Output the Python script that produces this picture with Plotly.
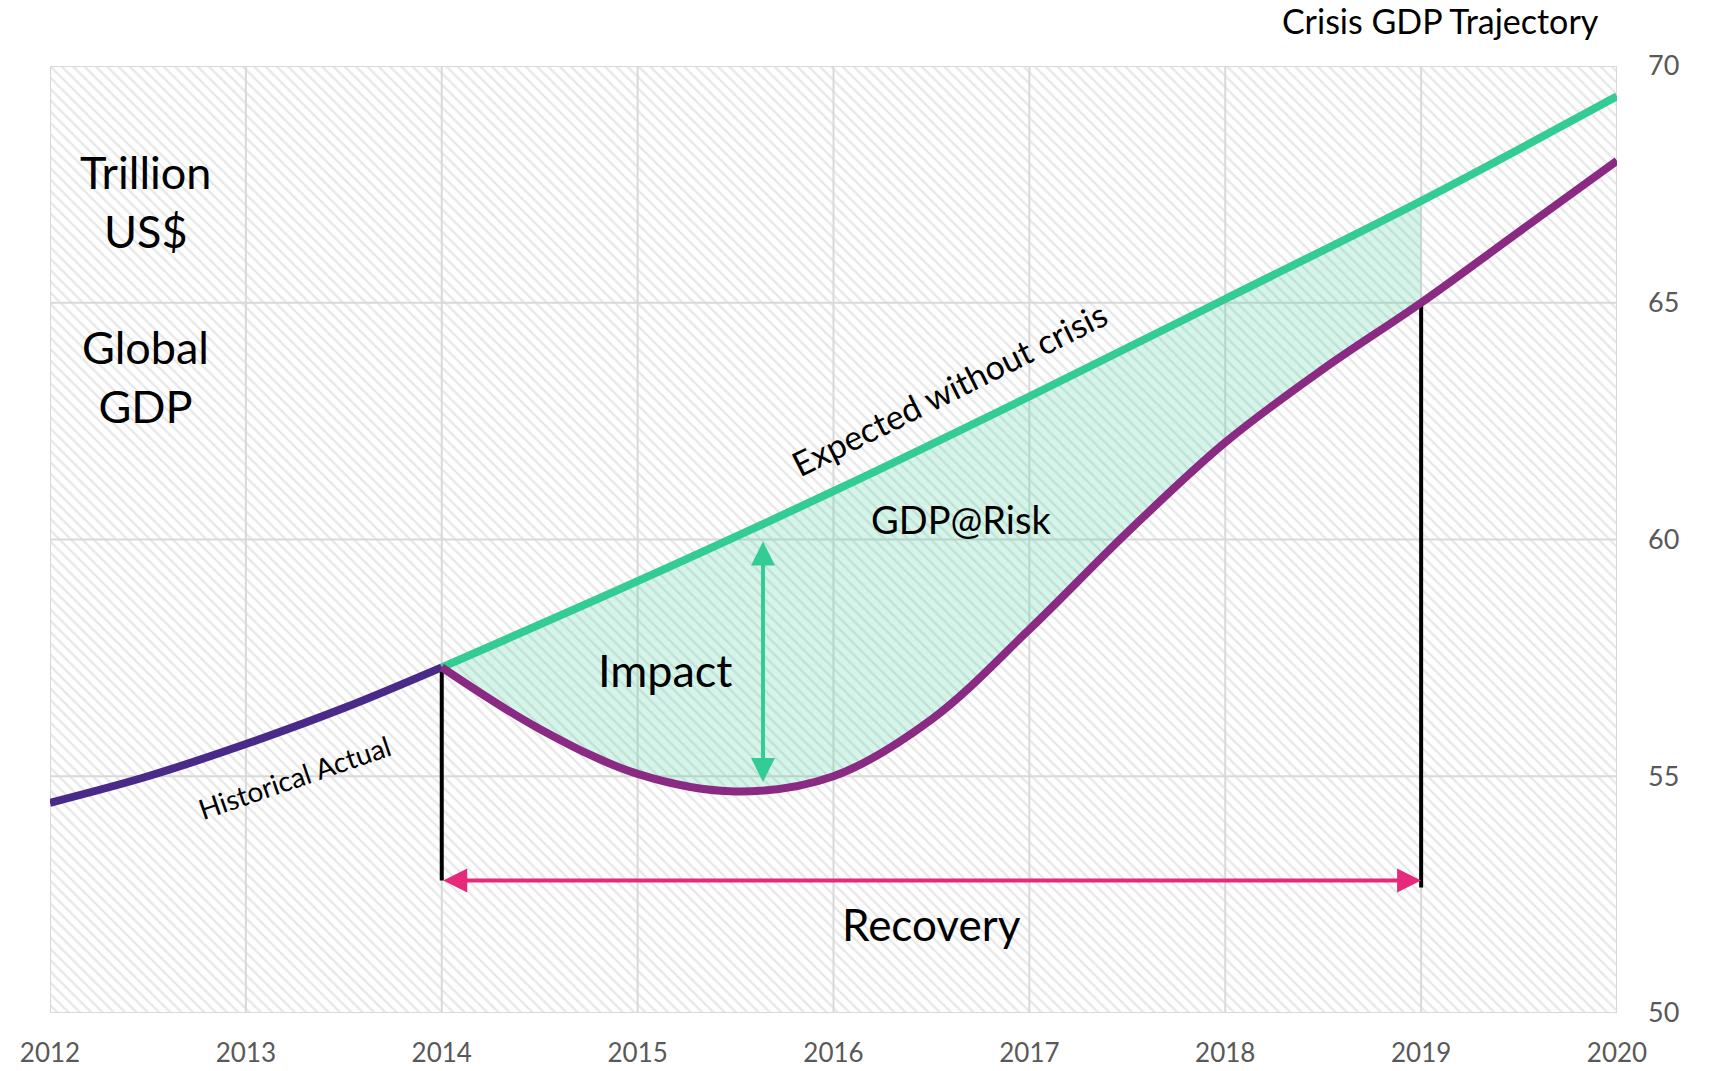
import plotly.graph_objects as go

# ---- data (trillion US$) ----
years_hist = [2012, 2012.5, 2013, 2013.5, 2014]
gdp_hist = [54.44, 55.0, 55.68, 56.44, 57.3]

years_expected = [2014, 2015, 2016, 2017, 2018, 2019, 2020]
gdp_expected = [57.3, 59.12, 61.02, 63.02, 65.08, 67.15, 69.36]

years_crisis = [2014, 2014.5, 2015, 2015.5, 2016, 2016.5, 2017, 2017.5, 2018, 2018.5, 2019, 2019.5, 2020]
gdp_crisis = [57.3, 56.0, 55.05, 54.68, 55.0, 56.2, 58.1, 60.15, 62.05, 63.6, 65.0, 66.5, 68.0]

x_ticks = [2012, 2013, 2014, 2015, 2016, 2017, 2018, 2019, 2020]
y_ticks = [50, 55, 60, 65, 70]

crisis_start = 2014
recovery_end = 2019
impact_year = 2015.64
impact_top, impact_bottom = 59.99, 54.88
recovery_level = 52.8

GREEN = "#33cc94"
HIST = "#4a2a88"
CRISIS = "#8a2a82"
PINK = "#e6297a"
GRID = "#d9d9d9"
FONT = "Lato"

x0, x1 = x_ticks[0], x_ticks[-1]
y0, y1 = y_ticks[0], y_ticks[-1]

fig = go.Figure()

# hatched plot background
fig.add_trace(go.Scatter(
    x=[x0, x1, x1, x0, x0], y=[y0, y0, y1, y1, y0],
    mode="lines", fill="toself", line=dict(width=0),
    fillcolor="white",
    fillpattern=dict(shape="\\", size=8, solidity=0.3, fgcolor="#d0d0d0", bgcolor="white"),
    hoverinfo="skip", showlegend=False,
))

# grid lines drawn over the hatch
gx, gy = [], []
for t in x_ticks:
    gx += [t, t, None]
    gy += [y0, y1, None]
for t in y_ticks:
    gx += [x0, x1, None]
    gy += [t, t, None]
fig.add_trace(go.Scatter(x=gx, y=gy, mode="lines", line=dict(color=GRID, width=2),
                         hoverinfo="skip", showlegend=False))

# GDP@Risk area between the two paths, crisis start to recovery
i_end_e = years_expected.index(recovery_end) + 1
i_end_c = years_crisis.index(recovery_end) + 1
fig.add_trace(go.Scatter(
    x=years_expected[:i_end_e], y=gdp_expected[:i_end_e], mode="lines",
    line=dict(width=0, shape="spline"), hoverinfo="skip", showlegend=False,
))
fig.add_trace(go.Scatter(
    x=years_crisis[:i_end_c], y=gdp_crisis[:i_end_c], mode="lines",
    line=dict(width=0, shape="spline"), fill="tonexty",
    fillcolor="rgba(51,204,148,0.2)", hoverinfo="skip", showlegend=False,
))

# vertical markers at crisis start and recovery
fig.add_trace(go.Scatter(
    x=[crisis_start, crisis_start, None, recovery_end, recovery_end],
    y=[gdp_crisis[0], recovery_level, None, gdp_crisis[i_end_c - 1], recovery_level - 0.15],
    mode="lines", line=dict(color="black", width=4), hoverinfo="skip", showlegend=False,
))

# trajectories
fig.add_trace(go.Scatter(x=years_expected, y=gdp_expected, mode="lines",
                         line=dict(color=GREEN, width=8, shape="spline"),
                         name="Expected without crisis", showlegend=False))
fig.add_trace(go.Scatter(x=years_hist, y=gdp_hist, mode="lines",
                         line=dict(color=HIST, width=8, shape="spline"),
                         name="Historical Actual", showlegend=False))
fig.add_trace(go.Scatter(x=years_crisis, y=gdp_crisis, mode="lines",
                         line=dict(color=CRISIS, width=8, shape="spline"),
                         name="Crisis", showlegend=False))

annotations = [
    # double arrows
    dict(x=recovery_end, y=recovery_level, ax=crisis_start, ay=recovery_level,
         xref="x", yref="y", axref="x", ayref="y", showarrow=True, text="",
         arrowhead=2, arrowside="end+start", arrowwidth=4, arrowsize=1.2, arrowcolor=PINK),
    dict(x=impact_year, y=impact_bottom, ax=impact_year, ay=impact_top,
         xref="x", yref="y", axref="x", ayref="y", showarrow=True, text="",
         arrowhead=2, arrowside="end+start", arrowwidth=4, arrowsize=1.2, arrowcolor=GREEN),
    # labels
    dict(x=2012.485, y=67.13, text="Trillion<br>US$", font=dict(size=45)),
    dict(x=2012.485, y=63.45, text="Global<br>GDP", font=dict(size=45)),
    dict(x=2015.14, y=57.24, text="Impact", font=dict(size=45)),
    dict(x=2016.65, y=60.43, text="GDP@Risk", font=dict(size=38)),
    dict(x=2016.50, y=51.88, text="Recovery", font=dict(size=44)),
    dict(x=2013.25, y=54.98, text="Historical Actual", font=dict(size=28), textangle=-19),
    dict(x=2016.59, y=63.18, text="Expected without crisis", font=dict(size=34), textangle=-26.5),
    dict(x=0.9895, y=1.048, xref="paper", yref="paper", xanchor="right", yanchor="middle",
         text="Crisis GDP Trajectory", font=dict(size=34)),
]
for a in annotations:
    a.setdefault("xref", "x")
    a.setdefault("yref", "y")
    a.setdefault("showarrow", False)
    a["font"] = dict(family=FONT, color="black", **a.get("font", {}))
fig.update_layout(annotations=annotations)

fig.update_layout(
    width=1709, height=1071,
    margin=dict(l=50, r=92, t=66, b=58),
    paper_bgcolor="white", plot_bgcolor="white",
    showlegend=False,
    font=dict(family=FONT, color="#595959", size=27),
    xaxis=dict(range=[x0, x1], tickvals=x_ticks, ticktext=[str(t) for t in x_ticks],
               showgrid=False, zeroline=False, showline=False, automargin=False,
               ticklabelstandoff=22, tickfont=dict(size=26, color="#595959")),
    yaxis=dict(range=[y0, y1], tickvals=y_ticks, side="right",
               showgrid=False, zeroline=False, showline=False, automargin=False,
               ticklabelstandoff=30, tickfont=dict(size=27, color="#595959")),
)

fig.write_html("out.html")
